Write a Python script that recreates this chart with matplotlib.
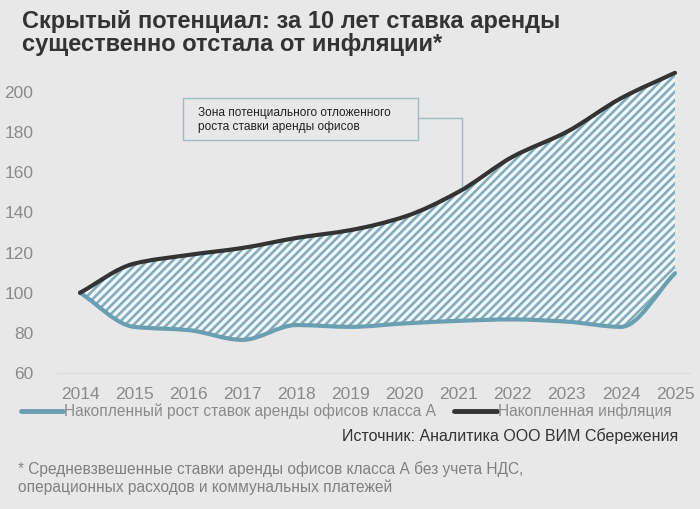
import matplotlib
matplotlib.use("Agg")
import matplotlib.pyplot as plt
from matplotlib.lines import Line2D
from matplotlib.patches import Rectangle, PathPatch
from matplotlib.path import Path
import numpy as np

# данные (индекс, 2014 = 100)
years = ["2014", "2015", "2016", "2017", "2018", "2019", "2020", "2021", "2022", "2023", "2024", "2025"]
rent = [100, 83, 81.4, 76.5, 83.9, 83, 84.7, 86, 86.7, 85.6, 83, 109.7]
inflation = [100, 114.5, 118.8, 122.3, 127.3, 131.2, 137.9, 150.3, 167.8, 180.2, 196.9, 209.6]
yticks = [60, 80, 100, 120, 140, 160, 180, 200]

BG = "#e8e8e8"
BLUE = "#6a9fb1"
DARK = "#333333"
GRAY = "#8a8a8a"
HATCH = "#82adbd"

plt.rcParams["font.family"] = ["Liberation Sans", "DejaVu Sans"]
plt.rcParams["hatch.color"] = HATCH
plt.rcParams["hatch.linewidth"] = 1.9


def monotone_bezier(xs, ys):
    # гладкая монотонная кривая (как curveMonotoneX) -> вершины и коды Path
    xs = np.asarray(xs, float)
    ys = np.asarray(ys, float)
    n = len(xs)
    h = np.diff(xs)
    d = np.diff(ys) / h
    m = np.zeros(n)
    m[0], m[-1] = d[0], d[-1]
    for i in range(1, n - 1):
        if d[i - 1] * d[i] <= 0:
            m[i] = 0
        else:
            w1 = 2 * h[i] + h[i - 1]
            w2 = h[i] + 2 * h[i - 1]
            m[i] = (w1 + w2) / (w1 / d[i - 1] + w2 / d[i])
    verts = [(xs[0], ys[0])]
    codes = [Path.MOVETO]
    for i in range(n - 1):
        verts += [(xs[i] + h[i] / 3, ys[i] + m[i] * h[i] / 3),
                  (xs[i + 1] - h[i] / 3, ys[i + 1] - m[i + 1] * h[i] / 3),
                  (xs[i + 1], ys[i + 1])]
        codes += [Path.CURVE4] * 3
    return verts, codes


fig = plt.figure(figsize=(7, 5.09), dpi=100, facecolor=BG)
ax = fig.add_axes([57 / 700, 1 - 373 / 509, 633 / 700, 305 / 509])
ax.set_facecolor(BG)

x = np.arange(len(years))
v_inf, c_inf = monotone_bezier(x, inflation)
v_rent, c_rent = monotone_bezier(x, rent)

# заштрихованная зона между кривыми
v_rent_back, _ = monotone_bezier(x[::-1], rent[::-1])
area_verts = v_inf + [v_rent_back[0]] + v_rent_back[1:] + [v_inf[0]]
area_codes = c_inf + [Path.LINETO] + [Path.CURVE4] * (len(v_rent_back) - 1) + [Path.CLOSEPOLY]
ax.add_patch(PathPatch(Path(area_verts, area_codes), facecolor="#f4f8f9", edgecolor=HATCH,
                       hatch="////", lw=0))

ax.add_patch(PathPatch(Path(v_rent, c_rent), fill=False, edgecolor=BLUE, lw=3,
                       capstyle="round", joinstyle="round"))
ax.add_patch(PathPatch(Path(v_inf, c_inf), fill=False, edgecolor=DARK, lw=3,
                       capstyle="round", joinstyle="round"))

ax.set_xlim(-23 / 54.1, 11 + 15 / 54.1)
ax.set_ylim(60, 212)
ax.set_yticks(yticks)
ax.set_yticklabels([str(v) for v in yticks], color=GRAY, fontsize=12.5)
ax.set_xticks(x)
ax.set_xticklabels(years, color=GRAY, fontsize=12.5)
ax.tick_params(length=0)
ax.tick_params(axis="y", pad=17)
ax.tick_params(axis="x", pad=10)
for s in ["top", "right", "left"]:
    ax.spines[s].set_visible(False)
ax.spines["bottom"].set_color("#dedede")
ax.spines["bottom"].set_linewidth(1)

# выноска
fig.patches.append(Rectangle((183 / 700, 1 - 140 / 509), 235 / 700, 42 / 509,
                             transform=fig.transFigure, facecolor=BG, edgecolor="#9dbcc8", lw=1))
fig.lines.append(Line2D([418 / 700, 462 / 700, 462 / 700], [1 - 118 / 509, 1 - 118 / 509, 1 - 186 / 509],
                        transform=fig.transFigure, color="#9dbcc8", lw=1))
fig.text(198 / 700, 1 - 120 / 509, "Зона потенциального отложенного\nроста ставки аренды офисов",
         fontsize=8.6, color="#222222", va="center", ha="left", linespacing=1.25)

# заголовок
fig.text(22 / 700, 1 - 33 / 509, "Скрытый потенциал: за 10 лет ставка аренды\nсущественно отстала от инфляции*",
         fontsize=17, fontweight="bold", color=DARK, va="center", ha="left", linespacing=1.0)

# легенда
fig.lines.append(Line2D([21 / 700, 63 / 700], [1 - 411 / 509] * 2, transform=fig.transFigure,
                        color=BLUE, lw=3.5, solid_capstyle="round"))
fig.text(64 / 700, 1 - 411 / 509, "Накопленный рост ставок аренды офисов класса А",
         fontsize=11.2, color=GRAY, va="center")
fig.lines.append(Line2D([454 / 700, 497 / 700], [1 - 411 / 509] * 2, transform=fig.transFigure,
                        color=DARK, lw=3.5, solid_capstyle="round"))
fig.text(498 / 700, 1 - 411 / 509, "Накопленная инфляция",
         fontsize=11.2, color=GRAY, va="center")

fig.text(678 / 700, 1 - 436 / 509, "Источник: Аналитика ООО ВИМ Сбережения",
         fontsize=11.5, color=DARK, va="center", ha="right")

fig.text(18 / 700, 1 - 478.5 / 509,
         "* Средневзвешенные ставки аренды офисов класса А без учета НДС,\nоперационных расходов и коммунальных платежей",
         fontsize=11.2, color="#808080", va="center", ha="left", linespacing=1.2)

fig.savefig("out.png", dpi=100, facecolor=BG)
